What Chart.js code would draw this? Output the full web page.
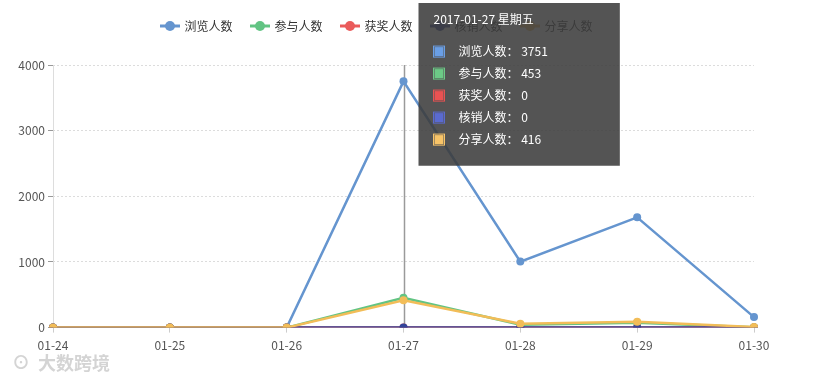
<!DOCTYPE html>
<html>
<head>
<meta charset="utf-8">
<script src="https://cdn.jsdelivr.net/npm/chart.js@4/dist/chart.umd.min.js"></script>
<style>
html,body{margin:0;padding:0;background:#fff;}
#wrap{position:relative;width:817px;height:380px;}
</style>
</head>
<body>
<div id="wrap"><canvas id="c" width="817" height="380"></canvas></div>
<script>
const categories = ['01-24','01-25','01-26','01-27','01-28','01-29','01-30'];
const fullDates = ['2017-01-24 星期二','2017-01-25 星期三','2017-01-26 星期四','2017-01-27 星期五','2017-01-28 星期六','2017-01-29 星期日','2017-01-30 星期一'];
const seriesNames = ['浏览人数','参与人数','获奖人数','核销人数','分享人数'];
const views = [0, 0, 0, 3751, 1005, 1680, 160];
const participants = [0, 0, 0, 453, 45, 75, 5];
const winners = [0, 0, 0, 0, 0, 0, 0];
const redeemed = [0, 0, 0, 0, 0, 0, 0];
const shares = [0, 0, 0, 416, 60, 90, 10];
const yTicks = [0, 1000, 2000, 3000, 4000];
const activeIndex = 3;
const watermark = '大数跨境';

const colors = ['#6595cf', '#62c483', '#ea5b5b', '#34449a', '#f2bd58'];
const boxColors = ['#6a9fe6', '#6cc986', '#ea5252', '#5a6ad0', '#f8c468'];
const seriesData = [views, participants, winners, redeemed, shares];

function legendIcon(color) {
  const cv = document.createElement('canvas');
  cv.width = 20; cv.height = 12;
  const g = cv.getContext('2d');
  g.strokeStyle = color; g.lineWidth = 3;
  g.beginPath(); g.moveTo(0, 6); g.lineTo(20, 6); g.stroke();
  g.fillStyle = color;
  g.beginPath(); g.arc(10, 6, 5, 0, Math.PI * 2); g.fill();
  return cv;
}
const icons = colors.map(legendIcon);

Chart.Tooltip.positioners.rightTop = function(elements) {
  if (!elements.length) return false;
  return { x: elements[0].element.x + 15, y: 3 };
};

const legendExtraHeight = 23;

const pointerPlugin = {
  id: 'pointer',
  beforeUpdate(chart) {
    const lg = chart.legend;
    if (lg && !lg._patched) {
      const origFit = lg.fit;
      lg.fit = function() { origFit.call(this); this.height += legendExtraHeight; };
      lg._patched = true;
    }
  },
  beforeDatasetsDraw(chart) {
    const ctx = chart.ctx;
    const area = chart.chartArea;
    ctx.save();
    ctx.strokeStyle = '#dddddd';
    ctx.lineWidth = 1;
    ctx.beginPath(); ctx.moveTo(Math.round(area.left) + 0.5, area.top); ctx.lineTo(Math.round(area.left) + 0.5, area.bottom); ctx.stroke();
    const x = chart.scales.x.getPixelForValue(activeIndex);
    const y0 = chart.scales.y.getPixelForValue(4000);
    const y1 = chart.scales.y.getPixelForValue(0);
    ctx.strokeStyle = '#9a9a9a';
    ctx.lineWidth = 1.5;
    ctx.beginPath(); ctx.moveTo(Math.round(x) + 0.5, y0); ctx.lineTo(Math.round(x) + 0.5, y1); ctx.stroke();
    ctx.restore();
  },
  afterDraw(chart) {
    const ctx = chart.ctx;
    ctx.save();
    ctx.fillStyle = '#d4d4d4';
    ctx.font = 'bold 18px "Noto Sans CJK SC"';
    ctx.textBaseline = 'middle';
    ctx.fillText('⊙', 12, 362);
    ctx.fillText(watermark, 38, 363);
    ctx.restore();
  }
};

const datasets = seriesNames.map((name, i) => ({
  label: name,
  data: seriesData[i],
  borderColor: colors[i],
  backgroundColor: colors[i],
  borderWidth: 2.5,
  pointRadius: 4,
  pointHoverRadius: 4,
  pointBorderWidth: 0,
  tension: 0,
  fill: false,
  order: seriesNames.length - i
}));

const chart = new Chart(document.getElementById('c'), {
  type: 'line',
  data: { labels: categories, datasets },
  plugins: [pointerPlugin],
  options: {
    responsive: false,
    animation: false,
    events: [],
    layout: { padding: { left: 0, right: 63, top: 1, bottom: 21 } },
    interaction: { mode: 'index', intersect: false },
    plugins: {
      legend: {
        position: 'top',
        labels: {
          usePointStyle: true,
          pointStyleWidth: 17,
          padding: 19,
          color: '#333',
          font: { family: '"Noto Sans CJK SC"', size: 12 },
          generateLabels(chart) {
            return Chart.defaults.plugins.legend.labels.generateLabels(chart)
              .sort((a, b) => a.datasetIndex - b.datasetIndex)
              .map(l => { l.pointStyle = icons[l.datasetIndex]; return l; });
          }
        }
      },
      tooltip: {
        enabled: true,
        position: 'rightTop',
        xAlign: 'left',
        yAlign: 'top',
        caretSize: 0,
        caretPadding: 0,
        cornerRadius: 0,
        backgroundColor: 'rgba(60,60,60,0.88)',
        titleColor: '#fff',
        bodyColor: '#fff',
        titleFont: { family: '"Noto Sans CJK SC"', size: 12, weight: 'normal' },
        bodyFont: { family: '"Noto Sans CJK SC"', size: 12 },
        titleMarginBottom: 18,
        bodySpacing: 7.6,
        padding: { top: 9, left: 15, right: 72, bottom: 19 },
        boxWidth: 11,
        boxHeight: 11,
        boxPadding: 12,
        multiKeyBackground: 'rgba(0,0,0,0)',
        callbacks: {
          title(items) { return fullDates[items[0].dataIndex]; },
          label(item) { return item.dataset.label + '： ' + item.raw; },
          labelColor(item) { const c = boxColors[item.datasetIndex]; return { borderColor: c, backgroundColor: c, borderWidth: 0 }; }
        }
      }
    },
    scales: {
      x: {
        offset: false,
        grid: { display: true, drawOnChartArea: false, color: '#ccc', tickLength: 5 },
        border: { display: true, color: '#ccc' },
        ticks: { color: '#555', font: { family: '"Noto Sans CJK SC"', size: 12 }, padding: 6, maxRotation: 0 }
      },
      y: {
        min: 0, max: 4000,
        afterBuildTicks(scale) { scale.ticks = yTicks.map(v => ({ value: v })); },
        afterFit(scale) { scale.width = 53; },
        grid: { color: '#dcdcdc', tickLength: 5, drawTicks: true, tickColor: '#999' },
        border: { display: false, dash: [2, 2] },
        ticks: { color: '#555', font: { family: '"Noto Sans CJK SC"', size: 12 }, padding: 3,
          callback(v) { return String(v); } }
      }
    }
  }
});

const act = seriesNames.map((_, i) => ({ datasetIndex: i, index: activeIndex }));
chart.tooltip.setActiveElements(act, { x: 0, y: 0 });
chart.update();
</script>
</body>
</html>
